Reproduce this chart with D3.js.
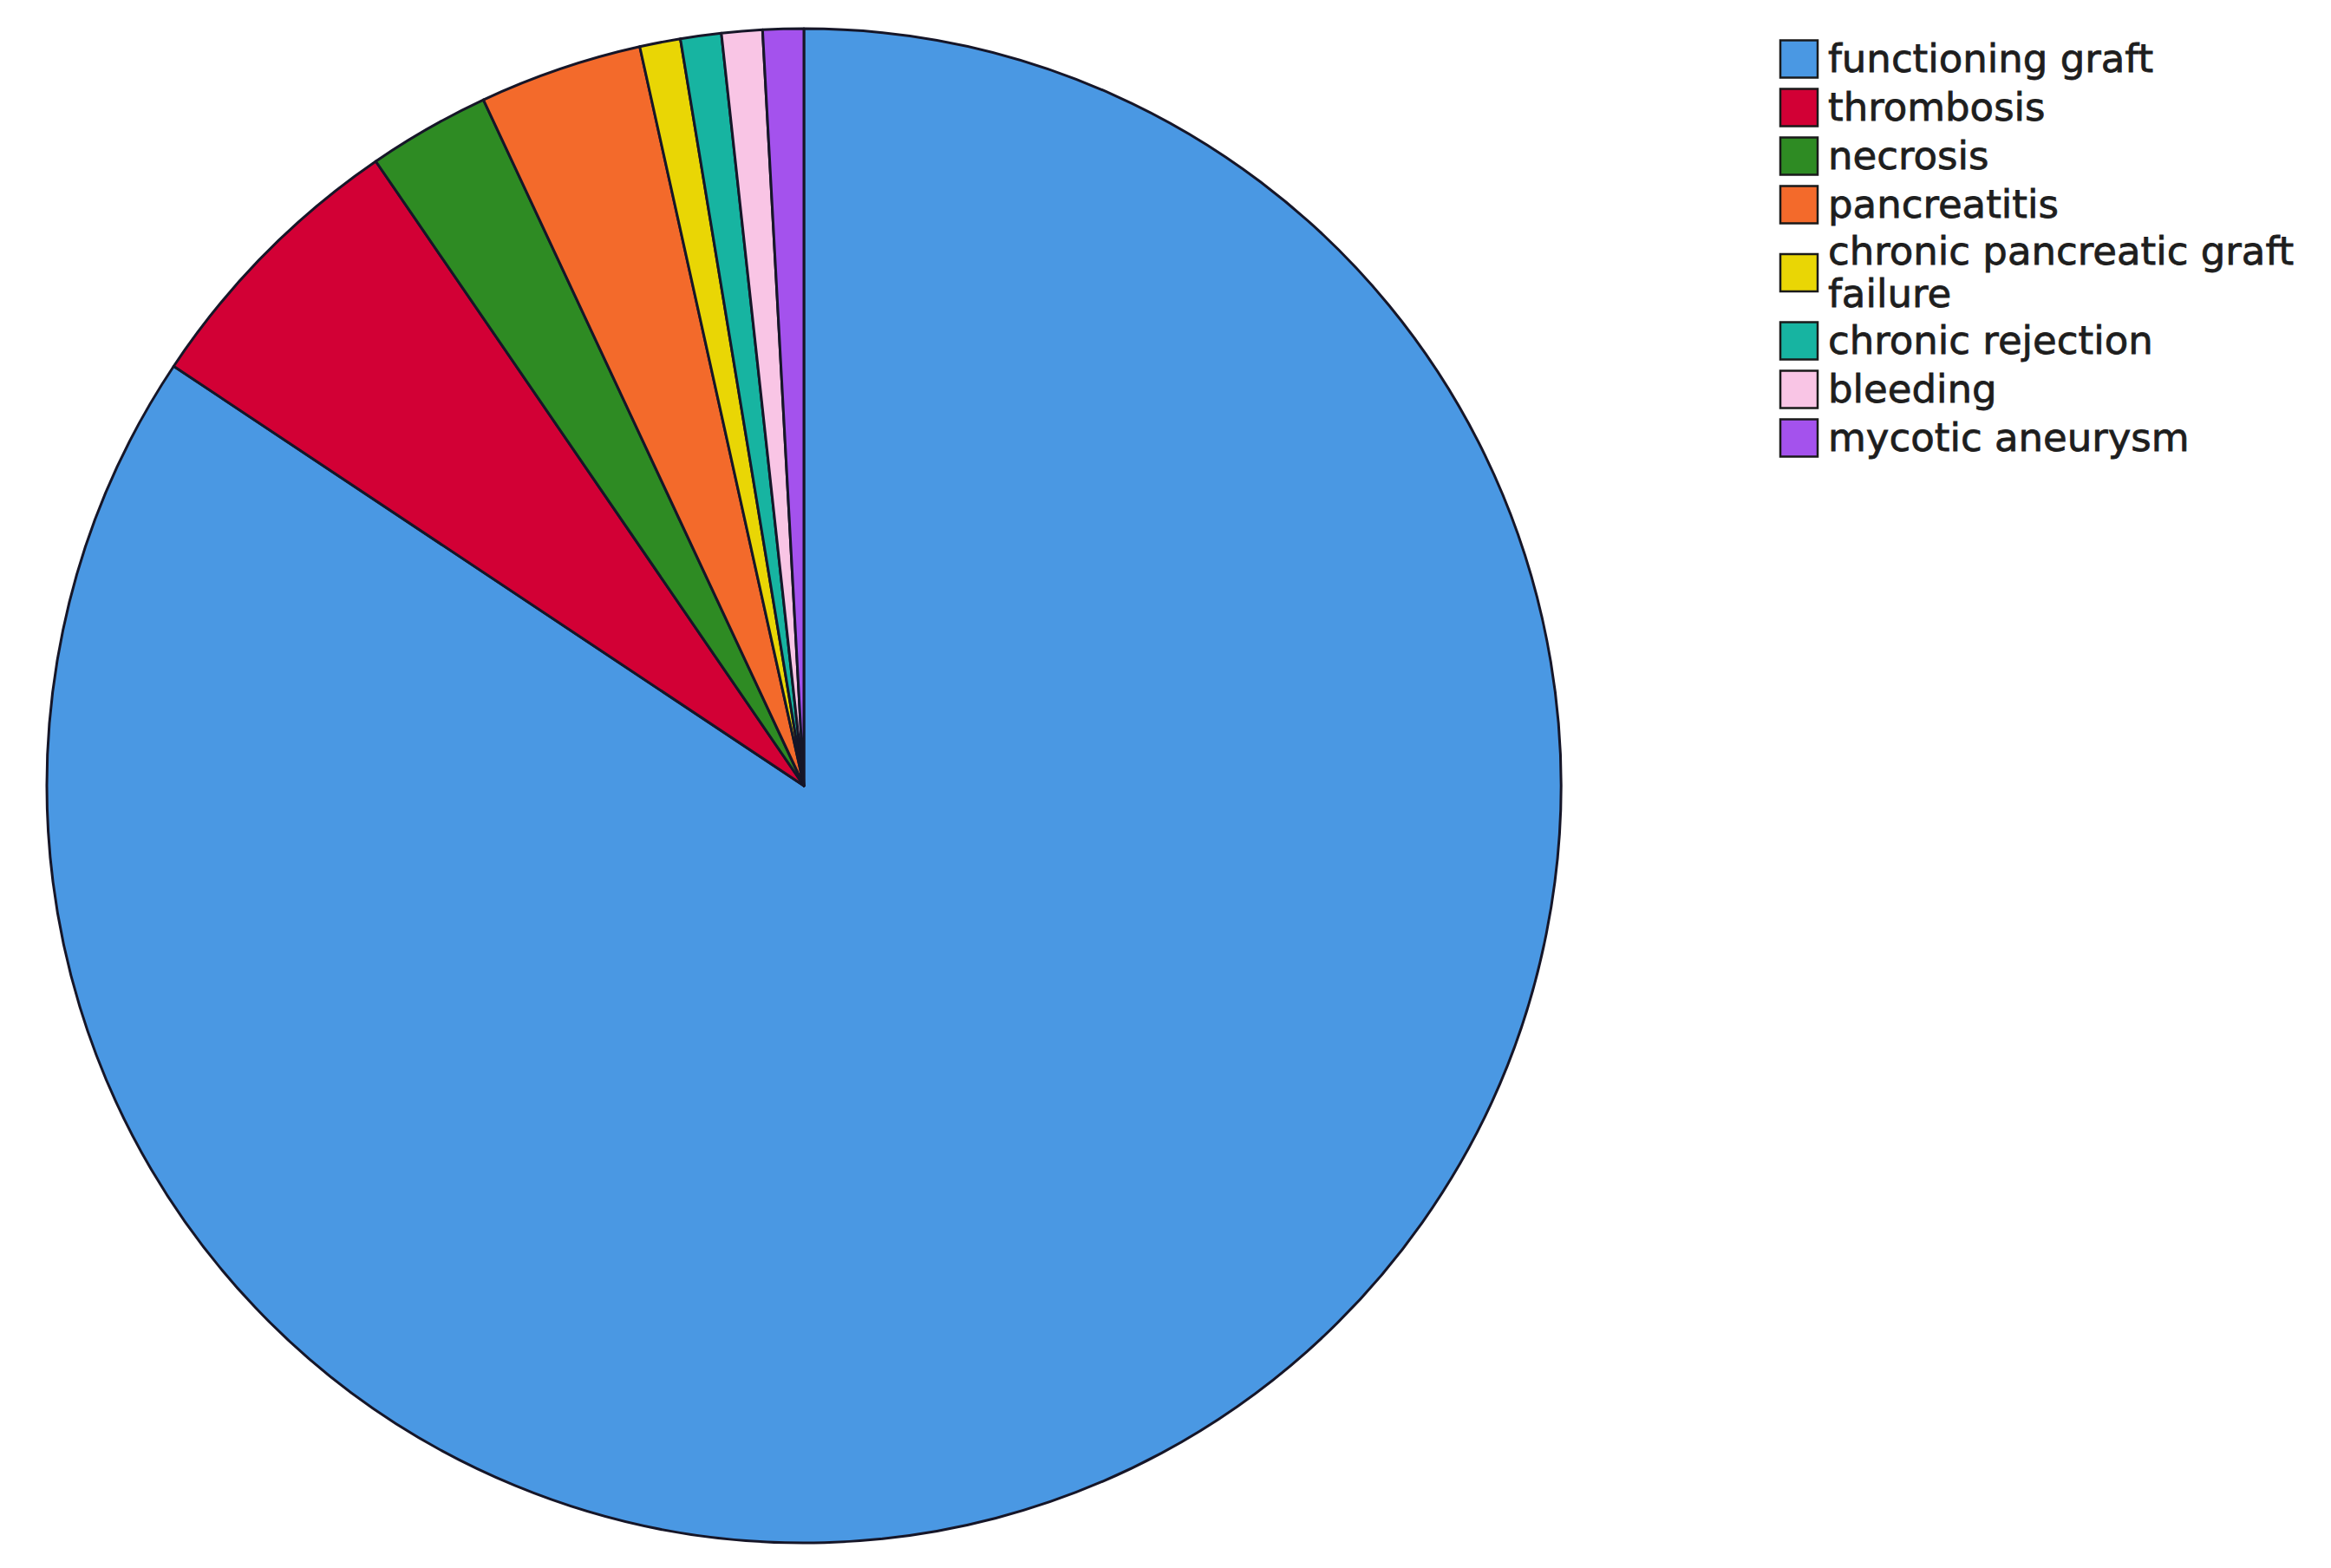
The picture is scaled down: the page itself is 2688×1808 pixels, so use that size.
<!DOCTYPE html>
<html>
<head>
<meta charset="utf-8">
<script src="https://cdn.jsdelivr.net/npm/d3@7"></script>
<style>
	body { margin: 0; background: #fff; }
	svg { display: block; }
</style>
</head>
<body>
<div id="chart"></div>
<script>

// graft outcome, number of cases
let categories = ['functioning graft', 'thrombosis', 'necrosis', 'pancreatitis',
	'chronic pancreatic graft failure', 'chronic rejection', 'bleeding', 'mycotic aneurysm'];
let counts = [97, 7, 3, 4, 1, 1, 1, 1];
let colours = ['#4a98e3', '#d20035', '#2e8b23', '#f36a2b', '#e9d605', '#17b4a1', '#f9c5e5', '#a452ed'];

let width = 2688;
let height = 1808;
let cx = 927, cy = 906, radius = 873;
let font_size = 45;

let svg = d3.select('#chart')
	.append('svg')
	.attr('width', width)
	.attr('height', height)
	.style('background', '#fff');

let data = categories.map(function (c, i) { return { name: c, value: counts[i], colour: colours[i] }; });

let pie = d3.pie()
	.sort(null)
	.value(function (d) { return d.value; });

let arc = d3.arc()
	.innerRadius(0)
	.outerRadius(radius);

let g = svg.append('g')
	.attr('transform', 'translate(' + cx + ', ' + cy + ')');

g.selectAll('path')
	.data(pie(data))
	.enter()
	.append('path')
	.attr('d', arc)
	.attr('fill', function (d) { return d.data.colour; })
	.attr('stroke', '#161628')
	.attr('stroke-width', 3)
	.attr('stroke-linejoin', 'round');

// legend
let legend = svg.append('g')
	.attr('transform', 'translate(2052, 40)');

let square = 43;
let row = 56;
let extra_line = 45;
let wrap_width = 575;
let y = 0;

data.forEach(function (d)
{
	let item = legend.append('g');

	let text = item.append('text')
		.attr('x', 56)
		.attr('font-family', 'DejaVu Sans, sans-serif')
		.attr('font-size', font_size + 'px')
		.attr('fill', '#1e1e1e')
		.attr('stroke', '#1e1e1e')
		.attr('stroke-width', 0.8);

	// wrap long labels onto several lines
	let words = d.name.split(' ');
	let lines = [];
	let line = [];
	let tspan = text.append('tspan').attr('x', 56);
	words.forEach(function (w)
	{
		line.push(w);
		tspan.text(line.join(' '));
		if (tspan.node().getComputedTextLength() > wrap_width && line.length > 1)
		{
			line.pop();
			lines.push(line.join(' '));
			line = [w];
		}
	});
	lines.push(line.join(' '));
	tspan.remove();

	let item_height = row + (lines.length - 1) * extra_line;
	let centre = y + item_height / 2;
	let first = centre + 15 - (lines.length - 1) * (extra_line + 4) / 2;

	lines.forEach(function (l, i)
	{
		text.append('tspan')
			.attr('x', 56)
			.attr('y', first + i * (extra_line + 4))
			.text(l);
	});

	item.append('rect')
		.attr('x', 1)
		.attr('y', centre - square / 2)
		.attr('width', square)
		.attr('height', square)
		.attr('fill', d.colour)
		.attr('stroke', '#1a1a1a')
		.attr('stroke-width', 2.5);

	y += item_height;
});

</script>
</body>
</html>
